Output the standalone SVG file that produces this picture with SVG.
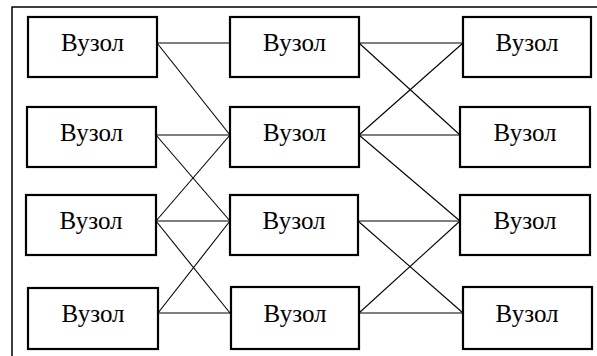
<svg xmlns="http://www.w3.org/2000/svg" width="597" height="356" viewBox="0 0 597 356">
<style>
.box{fill:#fff;stroke:#000;stroke-width:2.2}
.lbl{font-family:'Liberation Serif','Times New Roman',serif;font-size:25px;text-anchor:middle;fill:#000}
.c{stroke:#000;stroke-width:1.1;fill:none}
.frame{stroke:#000;stroke-width:1.5;fill:none}
</style>
<rect width="597" height="356" fill="#fff"/>
<path class="frame" d="M12,356 V7 H597"/>
<g id="connectors">
<line class="c" x1="157" y1="43" x2="230" y2="43"/>
<line class="c" x1="157" y1="43" x2="230" y2="135"/>
<line class="c" x1="156" y1="135" x2="230" y2="135"/>
<line class="c" x1="156" y1="135" x2="230" y2="221"/>
<line class="c" x1="156" y1="221" x2="230" y2="135"/>
<line class="c" x1="156" y1="221" x2="230" y2="221"/>
<line class="c" x1="156" y1="221" x2="230" y2="313"/>
<line class="c" x1="158" y1="313" x2="230" y2="221"/>
<line class="c" x1="158" y1="313" x2="230" y2="313"/>
<line class="c" x1="359" y1="43" x2="463" y2="43"/>
<line class="c" x1="359" y1="43" x2="460" y2="135"/>
<line class="c" x1="359" y1="135" x2="463" y2="43"/>
<line class="c" x1="359" y1="135" x2="460" y2="135"/>
<line class="c" x1="359" y1="135" x2="460" y2="221"/>
<line class="c" x1="358" y1="221" x2="460" y2="221"/>
<line class="c" x1="358" y1="221" x2="463" y2="313"/>
<line class="c" x1="359" y1="313" x2="460" y2="221"/>
<line class="c" x1="359" y1="313" x2="463" y2="313"/>
</g>
<g id="n11"><rect class="box" x="28" y="17" width="129" height="60"/><text class="lbl" x="92.5" y="51">Вузол</text></g>
<g id="n12"><rect class="box" x="27" y="107" width="129" height="60"/><text class="lbl" x="91.5" y="141">Вузол</text></g>
<g id="n13"><rect class="box" x="26" y="195" width="130" height="60"/><text class="lbl" x="91" y="229">Вузол</text></g>
<g id="n14"><rect class="box" x="28" y="288" width="130" height="61"/><text class="lbl" x="93" y="322">Вузол</text></g>
<g id="n21"><rect class="box" x="230" y="17" width="129" height="60"/><text class="lbl" x="294.5" y="51">Вузол</text></g>
<g id="n22"><rect class="box" x="230" y="107" width="129" height="60"/><text class="lbl" x="294.5" y="141">Вузол</text></g>
<g id="n23"><rect class="box" x="230" y="195" width="128" height="60"/><text class="lbl" x="294" y="229">Вузол</text></g>
<g id="n24"><rect class="box" x="231" y="287" width="128" height="62"/><text class="lbl" x="295" y="322">Вузол</text></g>
<g id="n31"><rect class="box" x="463" y="17" width="128" height="60"/><text class="lbl" x="527" y="51">Вузол</text></g>
<g id="n32"><rect class="box" x="460" y="107" width="130" height="60"/><text class="lbl" x="525" y="141">Вузол</text></g>
<g id="n33"><rect class="box" x="460" y="195" width="130" height="60"/><text class="lbl" x="525" y="229">Вузол</text></g>
<g id="n34"><rect class="box" x="463" y="287" width="129" height="62"/><text class="lbl" x="527" y="322">Вузол</text></g>
</svg>
